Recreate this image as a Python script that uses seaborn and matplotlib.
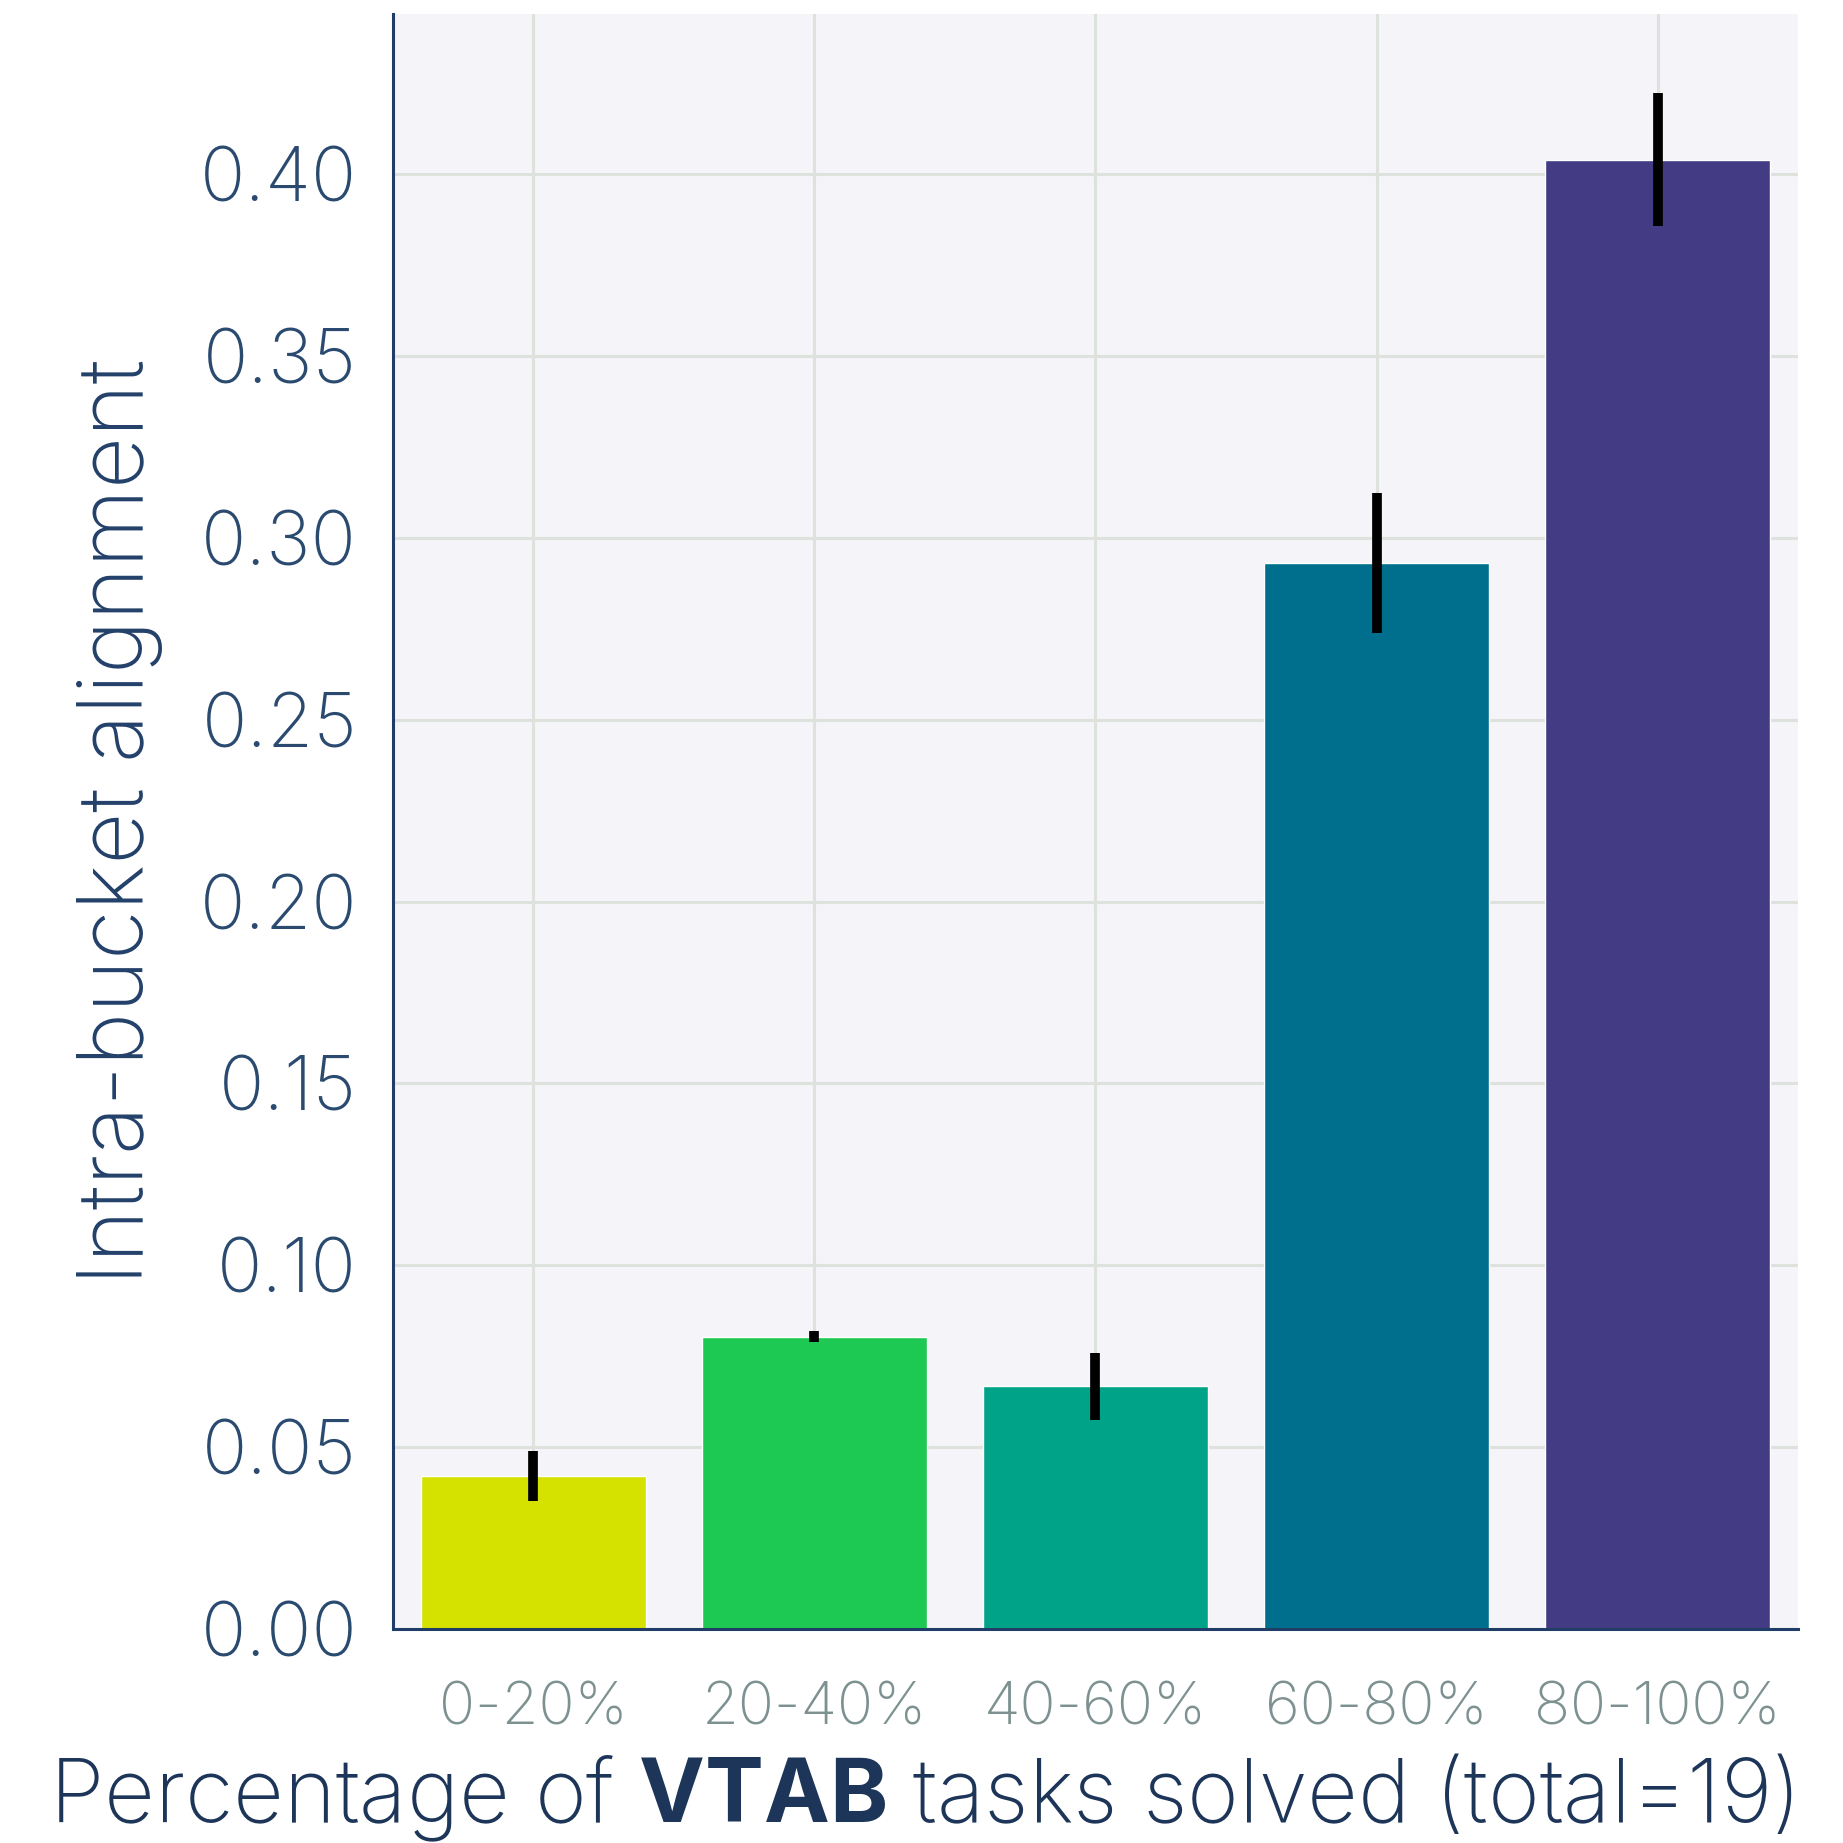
import matplotlib
matplotlib.use("Agg")
import matplotlib.pyplot as plt
import seaborn as sns
import numpy as np
import pandas as pd

# Share of VTAB tasks solved, per bucket
buckets = ["0-20%", "20-40%", "40-60%", "60-80%", "80-100%"]
alignment = [0.042, 0.0803, 0.0667, 0.2930, 0.4040]
alignment_err = [0.0069, 0.0015, 0.0093, 0.0192, 0.0182]
bar_colors = ["#d5e200", "#1dc952", "#00a387", "#006f8e", "#433c84"]
y_ticks = [0.00, 0.05, 0.10, 0.15, 0.20, 0.25, 0.30, 0.35, 0.40]

NAVY = "#1f3d66"
GRID = "#dde2dd"

sns.set_theme(style="whitegrid")
plt.rcParams["font.family"] = ["Inter", "Lato", "DejaVu Sans"]
plt.rcParams["mathtext.fontset"] = "custom"
plt.rcParams["mathtext.rm"] = "Inter"
plt.rcParams["mathtext.bf"] = "Inter:bold"

df = pd.DataFrame({"bucket": buckets, "alignment": alignment})

fig = plt.figure(figsize=(18.43, 18.43), dpi=100)
ax = fig.add_axes([0.213, 0.1161, 0.7627, 0.8763])
ax.set_facecolor("#f4f4f9")

sns.barplot(data=df, x="bucket", y="alignment", hue="bucket",
            palette=bar_colors, legend=False, errorbar=None,
            width=0.8, saturation=1, ax=ax, zorder=2)

ax.errorbar(np.arange(len(buckets)), alignment, yerr=alignment_err,
            fmt="none", ecolor="black", elinewidth=7, capsize=0, zorder=3)

ax.set_xlim(-0.5, 4.5)
ax.set_ylim(0, 0.444)
ax.set_yticks(y_ticks)
ax.set_yticklabels([f"{t:.2f}" for t in y_ticks])

ax.grid(True, color=GRID, linewidth=2.2, zorder=0)
ax.set_axisbelow(True)

for side in ["top", "right"]:
    ax.spines[side].set_visible(False)
for side in ["left", "bottom"]:
    ax.spines[side].set_color(NAVY)
    ax.spines[side].set_linewidth(2.2)

ax.tick_params(axis="y", length=13.5, width=2.2, color=NAVY,
               labelsize=54, labelcolor="#2a4a70", pad=12)
ax.tick_params(axis="x", length=16, width=2.2, color=NAVY,
               labelsize=43, labelcolor="#7d9191", pad=22)
for lbl in ax.get_yticklabels() + ax.get_xticklabels():
    lbl.set_fontweight("light")

ax.set_ylabel("Intra-bucket alignment", fontsize=65, color="#23406a",
              fontweight="light", labelpad=26)
ax.set_xlabel("")
fig.text(0.5, 0.0245, r"Percentage of $\bf{VTAB}$ tasks solved (total=19)",
         fontsize=63.5, color="#1c3558", fontweight="light",
         ha="center", va="center")

fig.savefig("out.png", dpi=100, facecolor="white")
